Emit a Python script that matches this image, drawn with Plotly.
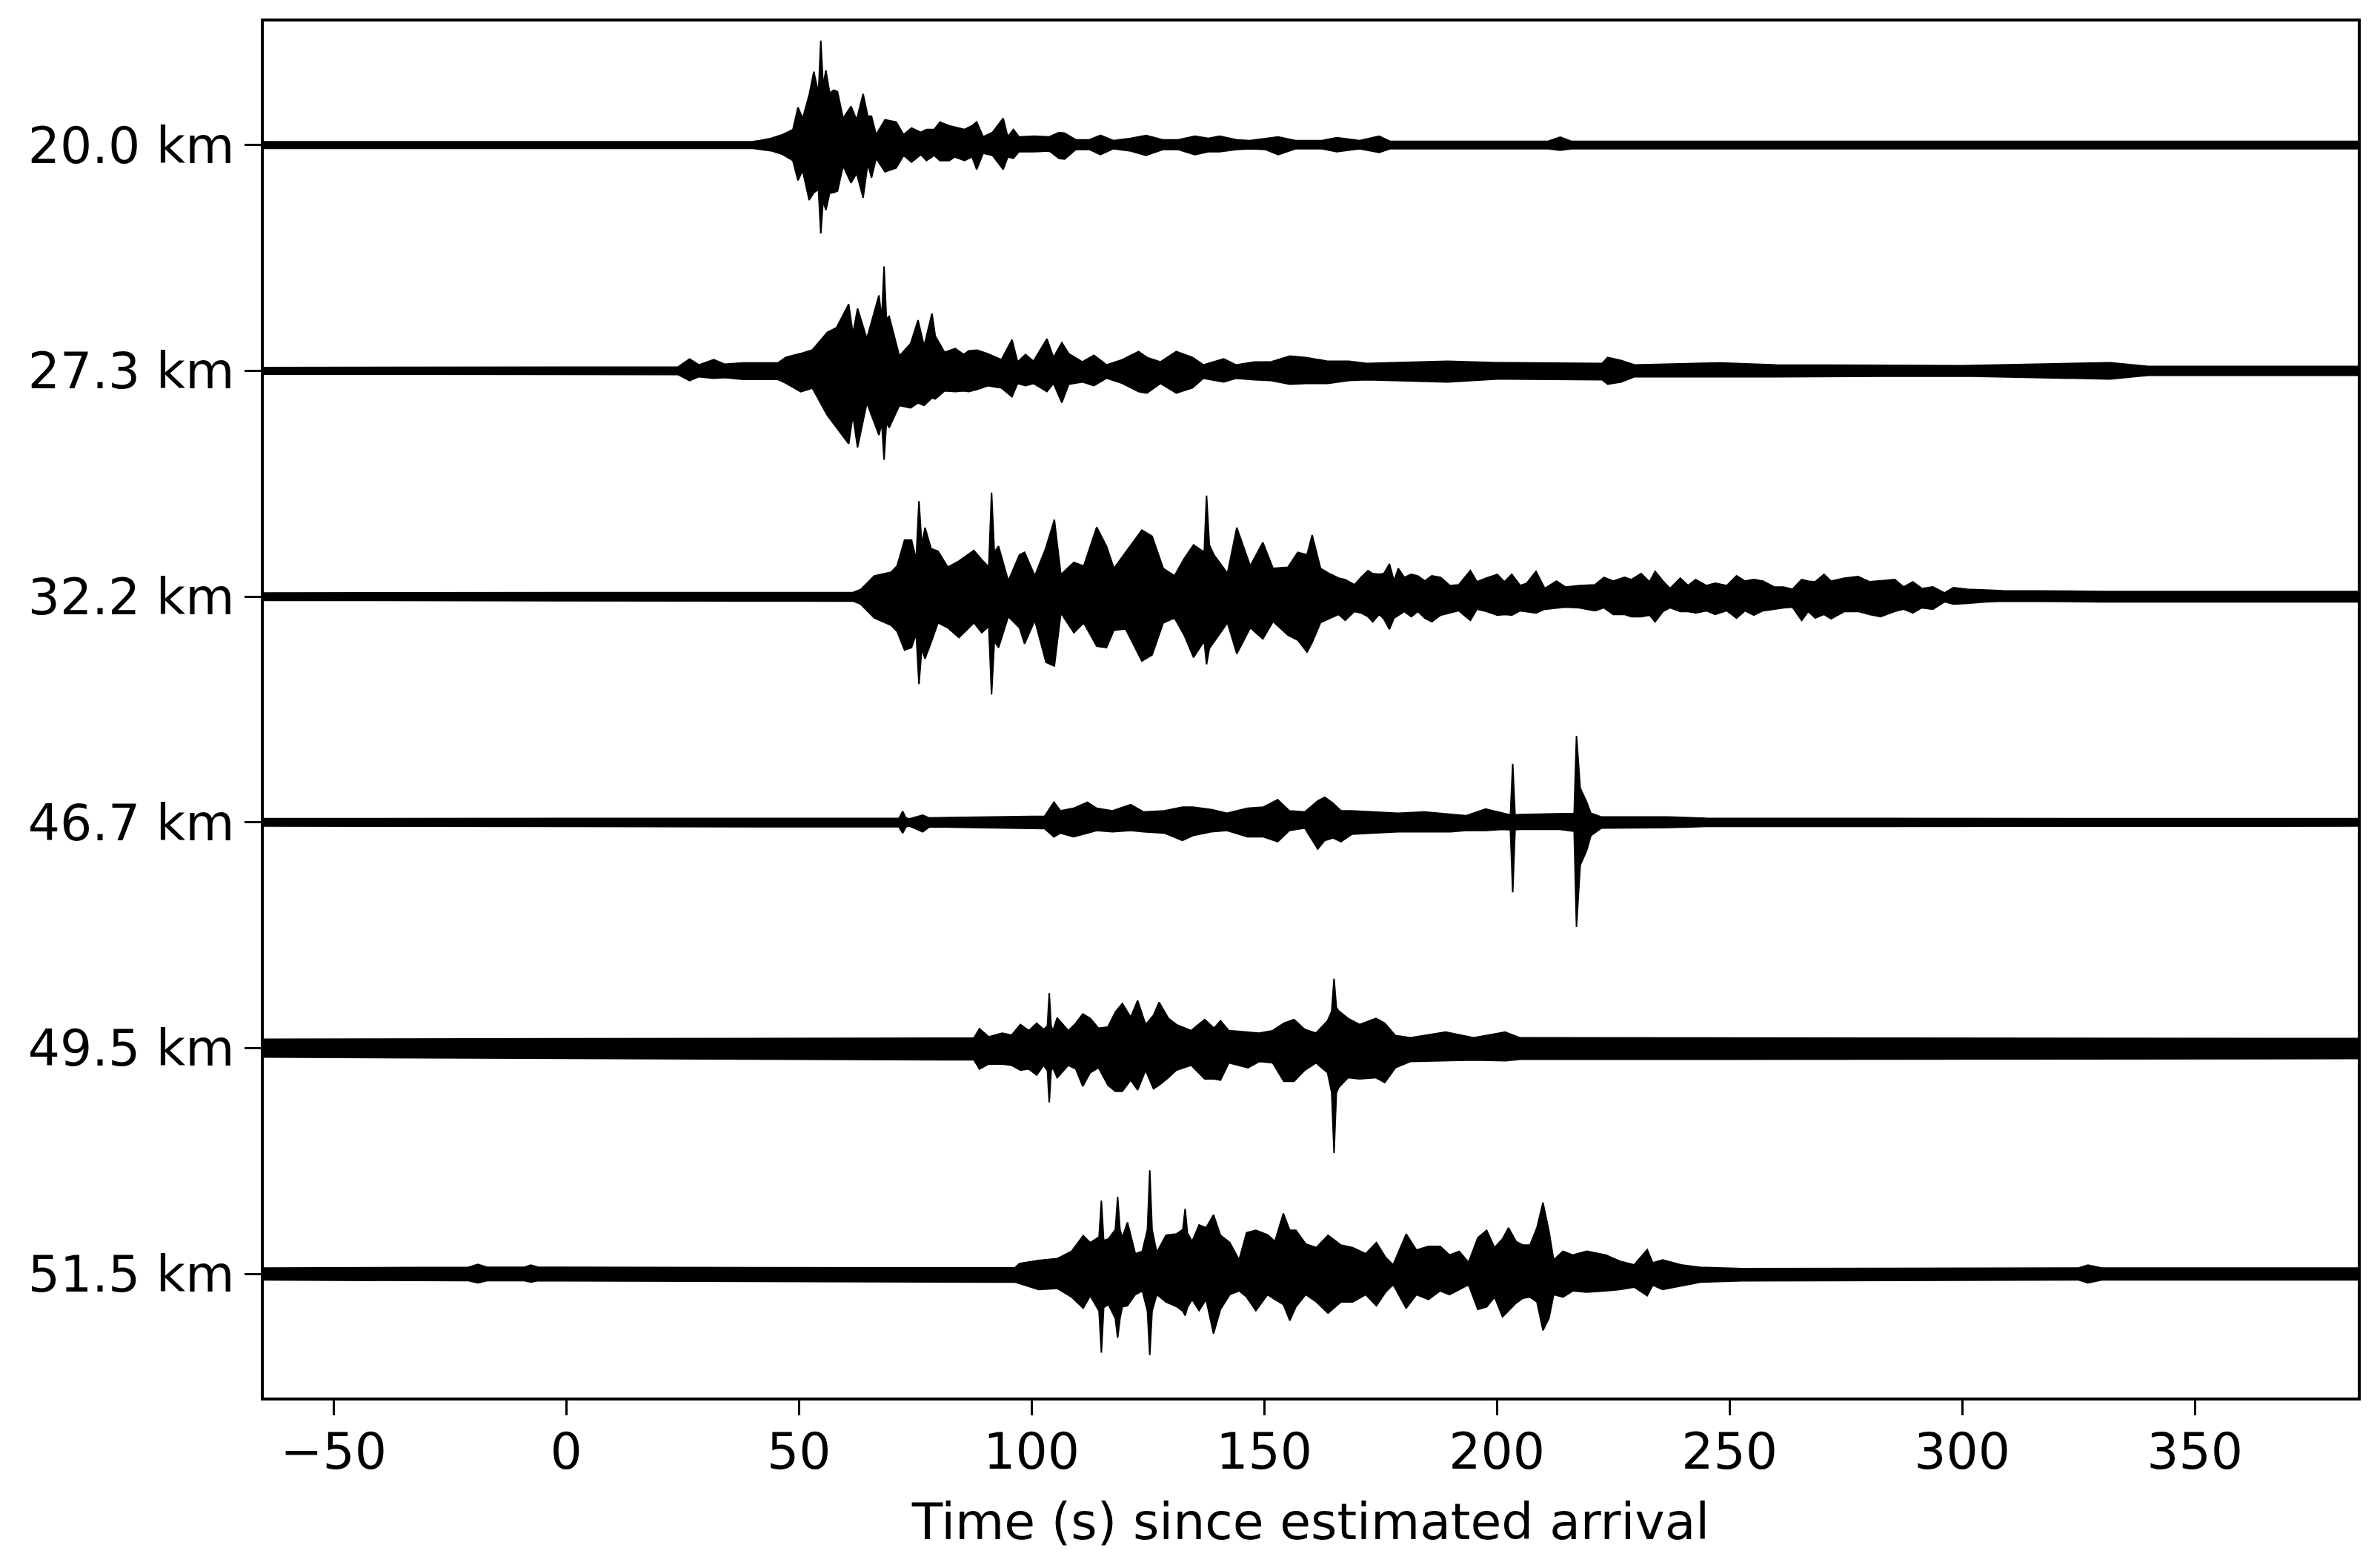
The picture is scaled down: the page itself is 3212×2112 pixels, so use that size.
import plotly.graph_objects as go

# Station distance labels (top to bottom)
distance_labels = ["20.0 km", "27.3 km", "32.2 km", "46.7 km", "49.5 km", "51.5 km"]

# x-axis ticks
x_ticks = [-50, 0, 50, 100, 150, 200, 250, 300, 350]
x_range = [-65, 385]

# Envelope of each seismogram:
# (time s, upper amplitude, lower amplitude); amplitudes in relative units,
# where one trace spacing = 304.5 units.
trace_20_0 = [
    (-65, 4.5, 4.5), (40, 4.5, 4.5), (41.6, 6, 6), (44, 9, 7.7), (46.5, 14, 12.7),
    (48.7, 20.7, 21), (49.8, 50.7, 47.7), (50.8, 35.7, 34.3), (52.2, 67.3, 74.3),
    (53.2, 99, 64.3), (54.2, 70, 60), (54.7, 140.7, 119.3), (55.2, 80, 75),
    (55.8, 100.7, 87.7), (56.6, 70, 65), (57.5, 74, 64), (58.3, 72, 62), (59.5, 36, 28),
    (61.2, 52, 51), (62.4, 34, 38), (63.8, 69, 71), (64.8, 39, 25), (65.6, 39, 44),
    (66.6, 14, 18), (68.5, 34, 36), (70.9, 31, 31), (72.5, 14, 14), (74.2, 23, 23),
    (76.2, 17, 13), (77.4, 21, 21), (79.1, 21, 14), (80.3, 31, 21), (82.3, 26, 21),
    (83.5, 24, 16), (85.6, 21, 21), (87.2, 26, 16), (88.2, 31, 33), (89.6, 11, 11),
    (91.6, 17, 14), (93.9, 36, 33), (94.9, 11, 16), (96.1, 21, 18), (97.3, 11, 9),
    (100.6, 12, 9), (103.8, 11, 8), (105.9, 17, 18), (107.1, 16, 19), (109.5, 7, 6),
    (112.4, 7, 6), (114.8, 13, 13), (117.6, 6, 5), (121.3, 9, 8), (124.6, 13, 14),
    (128.2, 7, 6), (131.5, 7, 6), (135.1, 12, 13), (138, 9, 9), (140.4, 12, 9),
    (144.1, 7, 6), (146.9, 6, 5), (150.2, 9, 6), (153, 11, 13), (156.7, 6, 5),
    (162.4, 6, 5), (165.6, 10, 9), (170.5, 6, 5), (174.7, 12, 10), (177, 5, 5),
    (211, 5, 5), (213.6, 10.7, 7), (216, 5, 5), (385, 5, 5),
]

trace_27_3 = [
    (-65, 4.5, 4.5), (24, 5, 5), (26.5, 16, 13.3), (28.5, 8, 8), (31.7, 15, 10),
    (34, 9, 9), (38, 10.7, 11.7), (45.5, 10.7, 11.7), (47.2, 18.3, 16.7),
    (50.4, 23.3, 28.3), (52.9, 28.3, 23.3), (56.1, 51.7, 60), (58.1, 58.3, 76.7),
    (60.7, 90, 98.3), (61.6, 50, 60), (62.6, 84, 103.3), (64.6, 43.3, 43.3),
    (67.2, 101.7, 86.7), (67.8, 70, 70), (68.3, 140.7, 120), (68.8, 70, 70),
    (69.4, 73.3, 76.7), (71.6, 20, 46.7), (74, 36.7, 50), (75.6, 68.3, 43.3),
    (76.9, 33.3, 46.7), (78.6, 77.3, 36.7), (79.3, 47, 38), (81.3, 25, 27), (83.6, 30, 28),
    (85.4, 22, 27), (86.5, 27, 28), (88.3, 28, 25), (90.6, 23, 20), (93.5, 15, 23),
    (95.8, 42, 35), (97, 12, 17), (98.7, 22, 20), (100.4, 13, 17), (103.3, 43, 28),
    (104.7, 18, 17), (106.5, 38, 43), (108, 23, 18), (110.9, 12, 15), (113.4, 21, 20),
    (116.1, 8, 10), (119.5, 15, 17), (123, 26, 28), (124.8, 18, 30), (127.7, 12, 17),
    (131.1, 26, 30), (134.6, 18, 23), (136.9, 8, 10), (141.3, 16, 15), (143.9, 8, 10),
    (147.9, 12, 12), (151.4, 12, 13), (155.5, 20, 18), (158.9, 18, 17), (163.6, 13, 17),
    (168.2, 13, 13), (172, 10, 12), (189.4, 13, 15), (200, 11, 11), (222.6, 10, 12),
    (223.8, 18, 18), (226.7, 14, 15), (229.6, 8, 8), (248, 10.7, 8), (260, 8, 8),
    (300, 7, 7), (331.8, 11, 11), (340, 6, 6), (385, 6, 6),
]

trace_32_2 = [
    (-65, 5, 5), (61.6, 5.5, 6), (63.3, 9.7, 10.3), (66.2, 28, 28.7), (69.8, 33, 38.7),
    (71.1, 41.3, 47), (72.7, 76.3, 72), (74.2, 76.3, 68.7), (75.2, 50, 50),
    (75.8, 128.7, 118), (76.4, 70, 70), (77.1, 93, 83.7), (78.4, 64.7, 62),
    (79.9, 61.3, 35.3), (82, 39.7, 42), (84.4, 48, 55.3), (87.6, 62.3, 35.3),
    (89.3, 49.7, 48.7), (90.8, 40, 40), (91.4, 140.3, 132), (92.0, 60, 60),
    (92.9, 68, 68.7), (95, 21.3, 27), (97.4, 56.3, 42), (98.5, 59.7, 63.7),
    (100.7, 28, 32), (103.1, 66.3, 88.7), (104.9, 103.7, 93.7), (106.3, 29.7, 22),
    (109.1, 46.3, 48.7), (111.2, 41.3, 35.3), (114, 93.7, 67), (116.1, 68, 68.7),
    (117.7, 38, 45.3), (120.2, 59.7, 43.7), (123.7, 89.7, 87), (125.9, 81.3, 78.7),
    (128.3, 38, 35.3), (130.7, 28, 28.7), (132.8, 51.3, 52), (134.8, 69.7, 82),
    (137.1, 60, 60), (137.6, 136.3, 91.3), (138.2, 70, 70), (139.2, 56.3, 62),
    (142.1, 31.3, 35.3), (144.1, 93, 77), (147, 41.3, 42), (149.7, 73, 57),
    (151.9, 38, 33.7), (155.1, 39.7, 52), (157.2, 59.7, 58.7), (159.2, 56.3, 74.7),
    (160.3, 83, 62), (162.1, 38, 35), (164, 31, 30), (166, 25, 24), (167.4, 23, 32),
    (169.4, 16, 20), (170.8, 26, 22), (172.3, 35, 27), (173.3, 31, 34), (174.7, 30, 24),
    (175.7, 31, 30), (176.9, 44, 44), (177.9, 21, 29), (178.8, 38, 25), (180.1, 26, 20),
    (181.6, 30, 27), (183, 28, 20), (184.5, 21, 29), (186, 28, 34), (187.9, 26, 25),
    (189.9, 15, 22), (191.8, 16, 19), (194.3, 35, 32), (195.7, 20, 17), (197.7, 25, 20),
    (200.1, 30, 25), (201.6, 20, 24), (203.2, 30, 25), (205, 15, 19), (206.4, 18, 20),
    (208.4, 34, 22), (210.3, 11, 17), (212.8, 21, 15), (214.7, 13, 14), (217.7, 15, 15),
    (221.1, 16, 19), (223, 26, 15), (225, 21, 24), (227.4, 26, 24), (228.9, 23, 27),
    (231, 31, 27), (232.8, 20, 25), (234, 34, 34), (235.7, 21, 20), (237.2, 11, 15),
    (239.4, 25, 20), (241.1, 15, 20), (242.7, 23, 22), (245, 15, 19), (246.9, 18, 24),
    (249.4, 15, 19), (251.5, 28, 29), (253.3, 21, 19), (255.2, 23, 25), (257.2, 21, 19),
    (259.6, 13, 17), (261.6, 13, 15), (263.5, 10, 14), (265.5, 23, 32), (266.9, 21, 20),
    (268.4, 20, 29), (270.3, 30, 24), (271.8, 21, 30), (274.7, 25, 20), (277.6, 27, 20),
    (280.1, 20, 24), (282.5, 21, 27), (285.5, 23, 20), (287.4, 13, 17), (289.4, 20, 22),
    (291.3, 11, 15), (293.7, 13, 17), (296.2, 5, 7), (298.1, 12, 10), (301.1, 10, 9),
    (305, 9, 7), (308.9, 8, 6), (330, 7, 7), (385, 7, 7),
]

trace_46_7 = [
    (-65, 5, 5), (71.5, 5.5, 6), (72.3, 15, 14.3), (73.0, 6, 6), (73.8, 5, 5),
    (76.6, 9.7, 12.7), (78, 6, 6), (102.8, 8.3, 8.3), (104.8, 27.3, 19.3),
    (106.2, 15.7, 14.3), (109, 19, 19.3), (112, 27.3, 14.3), (114, 19, 11),
    (117.4, 15.7, 12.7), (121.3, 24, 11), (124.1, 14, 12.7), (128.5, 15.7, 14.3),
    (132.4, 20.7, 24.3), (134.7, 20.7, 17.7), (138.6, 17.3, 12.7), (142, 12.3, 11),
    (146.4, 19, 19.3), (149.8, 20.7, 19.3), (152.9, 30.7, 26), (155.4, 15.7, 11),
    (158.7, 14, 7.7), (161.5, 29, 36), (163, 34, 24.3), (164.8, 25.7, 21),
    (166.5, 15.7, 26), (168.8, 15.7, 16), (173.2, 14, 14.3), (178.8, 12.3, 12.7),
    (184.4, 14, 12.7), (190, 10.7, 12.7), (193.3, 9, 11), (197.6, 18, 11),
    (201.2, 12.3, 9.3), (202.9, 10, 10), (203.4, 79, 94.3), (203.9, 10, 10),
    (205.1, 10.7, 9.3), (213.5, 11.3, 9.3), (216.6, 12, 12), (217.1, 116.7, 141),
    (217.9, 46.3, 57.7), (219.3, 27.3, 37.7), (220.2, 12.3, 17.7), (222.4, 7.3, 7.7),
    (236.7, 7.3, 7), (245, 5.5, 5.5), (385, 5, 5),
]

trace_49_5 = [
    (-65, 12, 12), (87.6, 13.7, 15.7), (88.8, 26.3, 28), (90.8, 15.3, 21.3),
    (93.7, 20.3, 21.3), (95.7, 17.7, 23), (97.6, 32, 29.7), (99.4, 23.7, 28),
    (101.1, 33.7, 36.3), (102.6, 25.3, 23), (103.4, 30, 30), (103.8, 74.3, 73),
    (104.2, 30, 30), (104.6, 23.7, 26.3), (105.5, 41, 39.7), (107.9, 23.7, 23),
    (109.5, 33.7, 28), (111, 46.3, 51.3), (112.6, 40.3, 33), (114.4, 27, 26.3),
    (116.4, 28.7, 49.7), (118, 48.7, 58), (119.5, 60.3, 58), (121.3, 42, 43),
    (122.8, 64.3, 56.3), (124.5, 32, 29.7), (126.2, 44.3, 54.7), (127.4, 62, 49.7),
    (129.4, 40.3, 39.7), (131.1, 32, 29.7), (134.3, 23.7, 23), (137.2, 38.7, 41.3),
    (139.2, 27, 41.3), (140.6, 37, 43), (142.4, 23.7, 19.7), (146.5, 22, 26.3),
    (148.9, 20.3, 18), (151.8, 23.7, 19.7), (154.2, 33.7, 44.7), (156.4, 38.7, 44.7),
    (158.7, 25.3, 29.7), (161.1, 20.3, 19.7), (163.6, 37, 33), (164.5, 50, 60),
    (165, 93.7, 141.3), (165.5, 55, 60), (166, 50.3, 53), (168, 40.3, 39.7),
    (170.5, 32, 41.3), (174, 40.3, 39.7), (175.9, 33.7, 46.3), (178.2, 17, 26.3),
    (181.4, 14, 18), (189, 21.7, 17), (195, 14, 16), (201.8, 21.7, 17),
    (205, 14, 15), (385, 13, 14),
]

trace_51_5 = [
    (-65, 8, 8), (-21, 9, 9), (-19, 13, 12), (-17, 9, 9), (-9, 9, 9), (-7.6, 12, 11),
    (-6, 9, 9), (93.3, 8.3, 11), (96.4, 8.3, 11), (97.4, 14, 12.7), (101.5, 18.3, 21),
    (105.5, 20.7, 19.3), (108.6, 30.7, 31), (111.1, 51.7, 46), (112.6, 42.3, 29.3),
    (114.5, 50, 50), (115, 99, 106), (115.5, 45, 45), (116.5, 47.3, 41),
    (118, 60, 60), (118.5, 104, 86), (119, 60, 60), (119.5, 49, 44.3),
    (120.6, 69.7, 42.7), (122.3, 27.3, 27.7), (123.8, 30.7, 22.7), (124.9, 60, 50),
    (125.4, 140, 109.3), (125.9, 60, 50), (126.9, 29, 27.7), (128.9, 52.3, 37.7),
    (131.1, 54, 43.7), (132.5, 60, 50), (133, 88, 56), (133.5, 55, 45),
    (134.5, 44, 34.3), (136, 66.3, 49.3), (137.5, 62.3, 34.3), (139.1, 79.7, 80.3),
    (140.6, 52.3, 47.7), (142.6, 42.3, 27.7), (144.6, 19, 22.7), (146.2, 55.7, 31),
    (148.2, 59, 49.3), (150.7, 53, 27.7), (152.3, 44, 34.3), (154.1, 81.7, 41),
    (155.5, 59, 62.7), (156.8, 59, 44.3), (158.9, 40.7, 27.7), (161.2, 35.7, 37.7),
    (163.7, 52.3, 52.7), (166.5, 39, 37.7), (169, 35.7, 37.7), (171.8, 27.3, 27.7),
    (174.1, 42.3, 42.7), (176.1, 22.3, 24.3), (177.7, 12.3, 14.3), (180.5, 54, 46),
    (182.7, 32.3, 27.7), (185.3, 37.3, 34.3), (187.8, 37.3, 22.7), (189.8, 25.7, 27.7),
    (191.9, 30.7, 21), (193.9, 15.7, 14.3), (195.9, 49, 47.7), (197.8, 59, 44.3),
    (199.5, 35.7, 31), (201.2, 47.3, 57.7), (202.5, 62.3, 49.3), (204.1, 44, 39.3),
    (205.6, 39, 32.7), (207.1, 39, 31), (208.6, 62.3, 37.7), (209.9, 96.3, 76),
    (211.2, 57.3, 59.3), (212.2, 19, 27.7), (214.2, 30.7, 31), (216.3, 25.7, 22.7),
    (219.3, 30.7, 24.3), (223.4, 25.7, 22.7), (226.4, 17.3, 21), (229.5, 12.3, 17.7),
    (232.3, 33, 29.3), (233.5, 15, 15), (235.6, 19, 21), (239.6, 12.3, 16),
    (243.7, 9, 11), (252.6, 7.3, 9.3), (325, 8, 8), (327, 12, 12), (330, 8, 8),
    (385, 8, 8),
]

traces = [trace_20_0, trace_27_3, trace_32_2, trace_46_7, trace_49_5, trace_51_5]
UNITS_PER_SPACING = 304.5

FONT = "DejaVu Sans"
FS = 68

fig = go.Figure()
for i, tr in enumerate(traces):
    t = [p[0] for p in tr]
    up = [p[1] for p in tr]
    dn = [p[2] for p in tr]
    xs = t + t[::-1]
    ys = [i - u / UNITS_PER_SPACING for u in up] + [i + d / UNITS_PER_SPACING for d in dn[::-1]]
    fig.add_trace(go.Scatter(
        x=xs, y=ys, mode="lines", fill="toself", fillcolor="black",
        line=dict(color="black", width=2), hoverinfo="skip", showlegend=False,
    ))

# the page body adds an 8 px offset, so the figure is 16 px smaller and margins compensate
fig.update_layout(
    width=3196, height=2096,
    margin=dict(l=348, r=22, t=21, b=218, autoexpand=False),
    paper_bgcolor="white", plot_bgcolor="white",
    font=dict(family=FONT, size=FS, color="black"),
    showlegend=False,
)
fig.update_xaxes(
    range=x_range, tickmode="array", tickvals=x_ticks, automargin=False,
    ticks="outside", ticklen=20, tickwidth=3, tickcolor="black",
    showline=True, linewidth=4, linecolor="black", mirror=True,
    showgrid=False, zeroline=False,
    tickfont=dict(family=FONT, size=FS),
    title=dict(text="Time (s) since estimated arrival", font=dict(family=FONT, size=FS), standoff=34),
)
fig.update_yaxes(
    range=[5.547, -0.547], tickmode="array", tickvals=list(range(6)), ticktext=distance_labels,
    automargin=False,
    ticks="outside", ticklen=22, tickwidth=3, tickcolor="black",
    showline=True, linewidth=4, linecolor="black", mirror=True,
    showgrid=False, zeroline=False,
    tickfont=dict(family=FONT, size=FS),
)
try:
    fig.update_xaxes(ticklabelstandoff=-10)
except Exception:
    pass

fig.write_html("out.html")
